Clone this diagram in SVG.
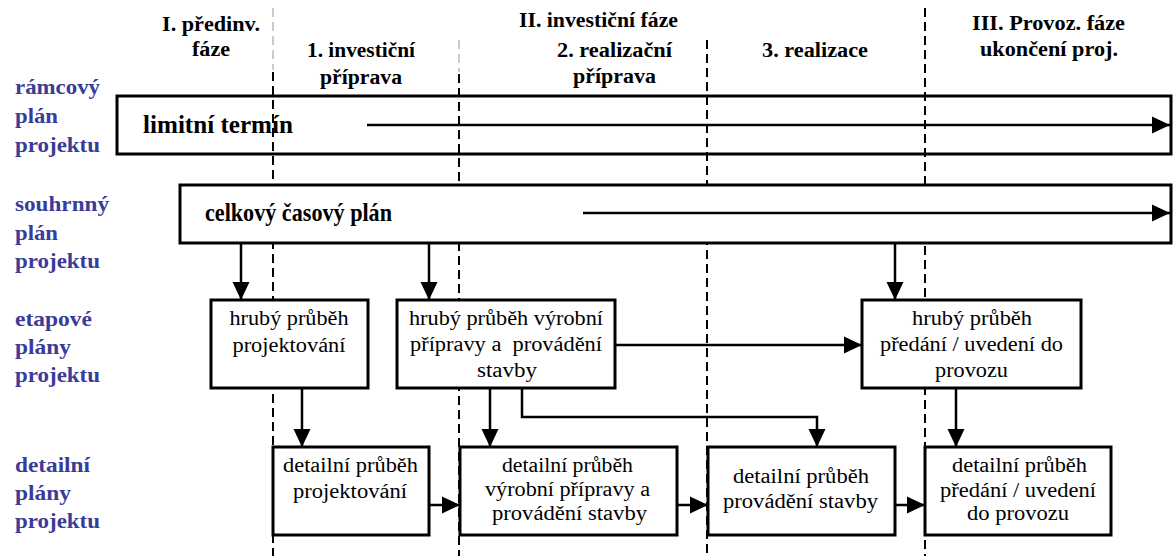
<svg xmlns="http://www.w3.org/2000/svg" width="1173" height="556" viewBox="0 0 1173 556">
<style>
.hdr{font-family:"Liberation Serif","DejaVu Serif","Noto Serif","Times New Roman",serif;font-weight:bold;font-size:20px;fill:#000;text-anchor:middle}
.lbl{font-family:"Liberation Serif","DejaVu Serif","Noto Serif","Times New Roman",serif;font-weight:bold;font-size:21.5px;fill:#3b3b98}
.big{font-family:"Liberation Serif","DejaVu Serif","Noto Serif","Times New Roman",serif;font-weight:bold;font-size:26px;fill:#000}
.txt{font-family:"Liberation Serif","DejaVu Serif","Noto Serif","Times New Roman",serif;font-size:20px;fill:#000;text-anchor:middle}
.box{fill:#fff;stroke:#000;stroke-width:3}
.frame{fill:none;stroke:#000;stroke-width:3}
.dash{stroke:#000;stroke-width:2;stroke-dasharray:9 5;fill:none}
.dashl{stroke:#bbb;stroke-width:1.5;stroke-dasharray:9 5;fill:none}
.conn{stroke:#000;stroke-width:2.5;fill:none}
</style>
<defs>
<marker id="ah" markerUnits="userSpaceOnUse" markerWidth="20" markerHeight="20" viewBox="0 0 20 20" refX="18" refY="10" orient="auto">
<path d="M0,1.5 L18,10 L0,18.5 z" fill="#000"/>
</marker>
</defs>
<rect width="1173" height="556" fill="#fff"/>

<g id="headers">
<text class="hdr" x="211" y="31" textLength="98" lengthAdjust="spacingAndGlyphs">I. předinv.</text>
<text class="hdr" x="211" y="56" textLength="38" lengthAdjust="spacingAndGlyphs">fáze</text>
<text class="hdr" x="361" y="57" textLength="108" lengthAdjust="spacingAndGlyphs">1. investiční</text>
<text class="hdr" x="361" y="84" textLength="82" lengthAdjust="spacingAndGlyphs">příprava</text>
<text class="hdr" x="598.5" y="27" textLength="159" lengthAdjust="spacingAndGlyphs">II. investiční fáze</text>
<text class="hdr" x="614.5" y="57" textLength="115" lengthAdjust="spacingAndGlyphs">2. realizační</text>
<text class="hdr" x="614.5" y="83" textLength="83" lengthAdjust="spacingAndGlyphs">příprava</text>
<text class="hdr" x="815" y="57" textLength="106" lengthAdjust="spacingAndGlyphs">3. realizace</text>
<text class="hdr" x="1048.5" y="30" textLength="153" lengthAdjust="spacingAndGlyphs">III. Provoz. fáze</text>
<text class="hdr" x="1049" y="56" textLength="138" lengthAdjust="spacingAndGlyphs">ukončení proj.</text>
</g>

<g id="row-labels">
<text class="lbl" x="15" y="94" textLength="85" lengthAdjust="spacingAndGlyphs">rámcový</text>
<text class="lbl" x="15" y="123" textLength="43" lengthAdjust="spacingAndGlyphs">plán</text>
<text class="lbl" x="15" y="152" textLength="85" lengthAdjust="spacingAndGlyphs">projektu</text>
<text class="lbl" x="15" y="211" textLength="94" lengthAdjust="spacingAndGlyphs">souhrnný</text>
<text class="lbl" x="15" y="240" textLength="43" lengthAdjust="spacingAndGlyphs">plán</text>
<text class="lbl" x="15" y="268" textLength="85" lengthAdjust="spacingAndGlyphs">projektu</text>
<text class="lbl" x="15" y="326" textLength="77" lengthAdjust="spacingAndGlyphs">etapové</text>
<text class="lbl" x="15" y="354" textLength="56" lengthAdjust="spacingAndGlyphs">plány</text>
<text class="lbl" x="15" y="382" textLength="85" lengthAdjust="spacingAndGlyphs">projektu</text>
<text class="lbl" x="15" y="472" textLength="75" lengthAdjust="spacingAndGlyphs">detailní</text>
<text class="lbl" x="15" y="500" textLength="56" lengthAdjust="spacingAndGlyphs">plány</text>
<text class="lbl" x="15" y="528" textLength="85" lengthAdjust="spacingAndGlyphs">projektu</text>
</g>

<g id="node-limitni">
<rect class="frame" x="117" y="96" width="1054" height="58"/>
<text class="big" x="143" y="133" textLength="150" lengthAdjust="spacingAndGlyphs">limitní termín</text>
</g>

<g id="phase-lines">
<line class="dashl" x1="273" y1="8" x2="273" y2="70"/>
<line class="dash" x1="273" y1="72" x2="273" y2="556"/>
<line class="dashl" x1="459" y1="40" x2="459" y2="72"/>
<line class="dash" x1="459" y1="74" x2="459" y2="556"/>
<line class="dash" x1="707" y1="40" x2="707" y2="556"/>
<line class="dash" x1="925" y1="8" x2="925" y2="556"/>
</g>

<g id="node-celkovy">
<rect class="box" x="180" y="185" width="991" height="58"/>
<text class="big" x="205" y="221" textLength="187" lengthAdjust="spacingAndGlyphs">celkový časový plán</text>
</g>

<g id="node-hruby-projektovani">
<rect class="box" x="211" y="300" width="157" height="88"/>
<text class="txt" x="289" y="325" textLength="119" lengthAdjust="spacingAndGlyphs">hrubý průběh</text>
<text class="txt" x="289" y="352" textLength="113" lengthAdjust="spacingAndGlyphs">projektování</text>
</g>

<g id="node-hruby-vyrobni">
<rect class="box" x="397" y="300" width="218" height="88"/>
<text class="txt" x="506" y="325" textLength="194" lengthAdjust="spacingAndGlyphs">hrubý průběh výrobní</text>
<text class="txt" x="506" y="351" textLength="192" lengthAdjust="spacingAndGlyphs" xml:space="preserve">přípravy a  provádění</text>
<text class="txt" x="507" y="377" textLength="60" lengthAdjust="spacingAndGlyphs">stavby</text>
</g>

<g id="node-hruby-predani">
<rect class="box" x="862" y="300" width="219" height="88"/>
<text class="txt" x="972" y="325" textLength="120" lengthAdjust="spacingAndGlyphs">hrubý průběh</text>
<text class="txt" x="971.5" y="351" textLength="183" lengthAdjust="spacingAndGlyphs">předání / uvedení do</text>
<text class="txt" x="971.5" y="377" textLength="73" lengthAdjust="spacingAndGlyphs">provozu</text>
</g>

<g id="node-detail-projektovani">
<rect class="box" x="273" y="447" width="156" height="88"/>
<text class="txt" x="350.5" y="472" textLength="135" lengthAdjust="spacingAndGlyphs">detailní průběh</text>
<text class="txt" x="350" y="498" textLength="114" lengthAdjust="spacingAndGlyphs">projektování</text>
</g>

<g id="node-detail-vyrobni">
<rect class="box" x="460" y="447" width="217" height="88"/>
<text class="txt" x="567.5" y="472" textLength="131" lengthAdjust="spacingAndGlyphs">detailní průběh</text>
<text class="txt" x="567.5" y="496" textLength="165" lengthAdjust="spacingAndGlyphs">výrobní přípravy a</text>
<text class="txt" x="569.5" y="520" textLength="155" lengthAdjust="spacingAndGlyphs">provádění stavby</text>
</g>

<g id="node-detail-provadeni">
<rect class="box" x="708" y="447" width="187" height="88"/>
<text class="txt" x="801" y="483" textLength="136" lengthAdjust="spacingAndGlyphs">detailní průběh</text>
<text class="txt" x="800.5" y="508" textLength="155" lengthAdjust="spacingAndGlyphs">provádění stavby</text>
</g>

<g id="node-detail-predani">
<rect class="box" x="925" y="447" width="186" height="88"/>
<text class="txt" x="1019.5" y="472" textLength="135" lengthAdjust="spacingAndGlyphs">detailní průběh</text>
<text class="txt" x="1018" y="497" textLength="156" lengthAdjust="spacingAndGlyphs">předání / uvedení</text>
<text class="txt" x="1018" y="520" textLength="102" lengthAdjust="spacingAndGlyphs">do provozu</text>
</g>

<g id="connectors">
<line class="conn" x1="367" y1="125" x2="1170" y2="125" marker-end="url(#ah)"/>
<line class="conn" x1="583" y1="213" x2="1170" y2="213" marker-end="url(#ah)"/>
<line class="conn" x1="241" y1="243" x2="241" y2="300" marker-end="url(#ah)"/>
<line class="conn" x1="429" y1="243" x2="429" y2="300" marker-end="url(#ah)"/>
<line class="conn" x1="895" y1="243" x2="895" y2="300" marker-end="url(#ah)"/>
<line class="conn" x1="615" y1="345" x2="862" y2="345" marker-end="url(#ah)"/>
<line class="conn" x1="302" y1="388" x2="302" y2="447" marker-end="url(#ah)"/>
<line class="conn" x1="490" y1="388" x2="490" y2="447" marker-end="url(#ah)"/>
<polyline class="conn" points="522,388 522,417 817,417 817,447" marker-end="url(#ah)"/>
<line class="conn" x1="956" y1="388" x2="956" y2="447" marker-end="url(#ah)"/>
<line class="conn" x1="429" y1="505" x2="460" y2="505" marker-end="url(#ah)"/>
<line class="conn" x1="677" y1="505" x2="708" y2="505" marker-end="url(#ah)"/>
<line class="conn" x1="895" y1="505" x2="925" y2="505" marker-end="url(#ah)"/>
</g>
</svg>
